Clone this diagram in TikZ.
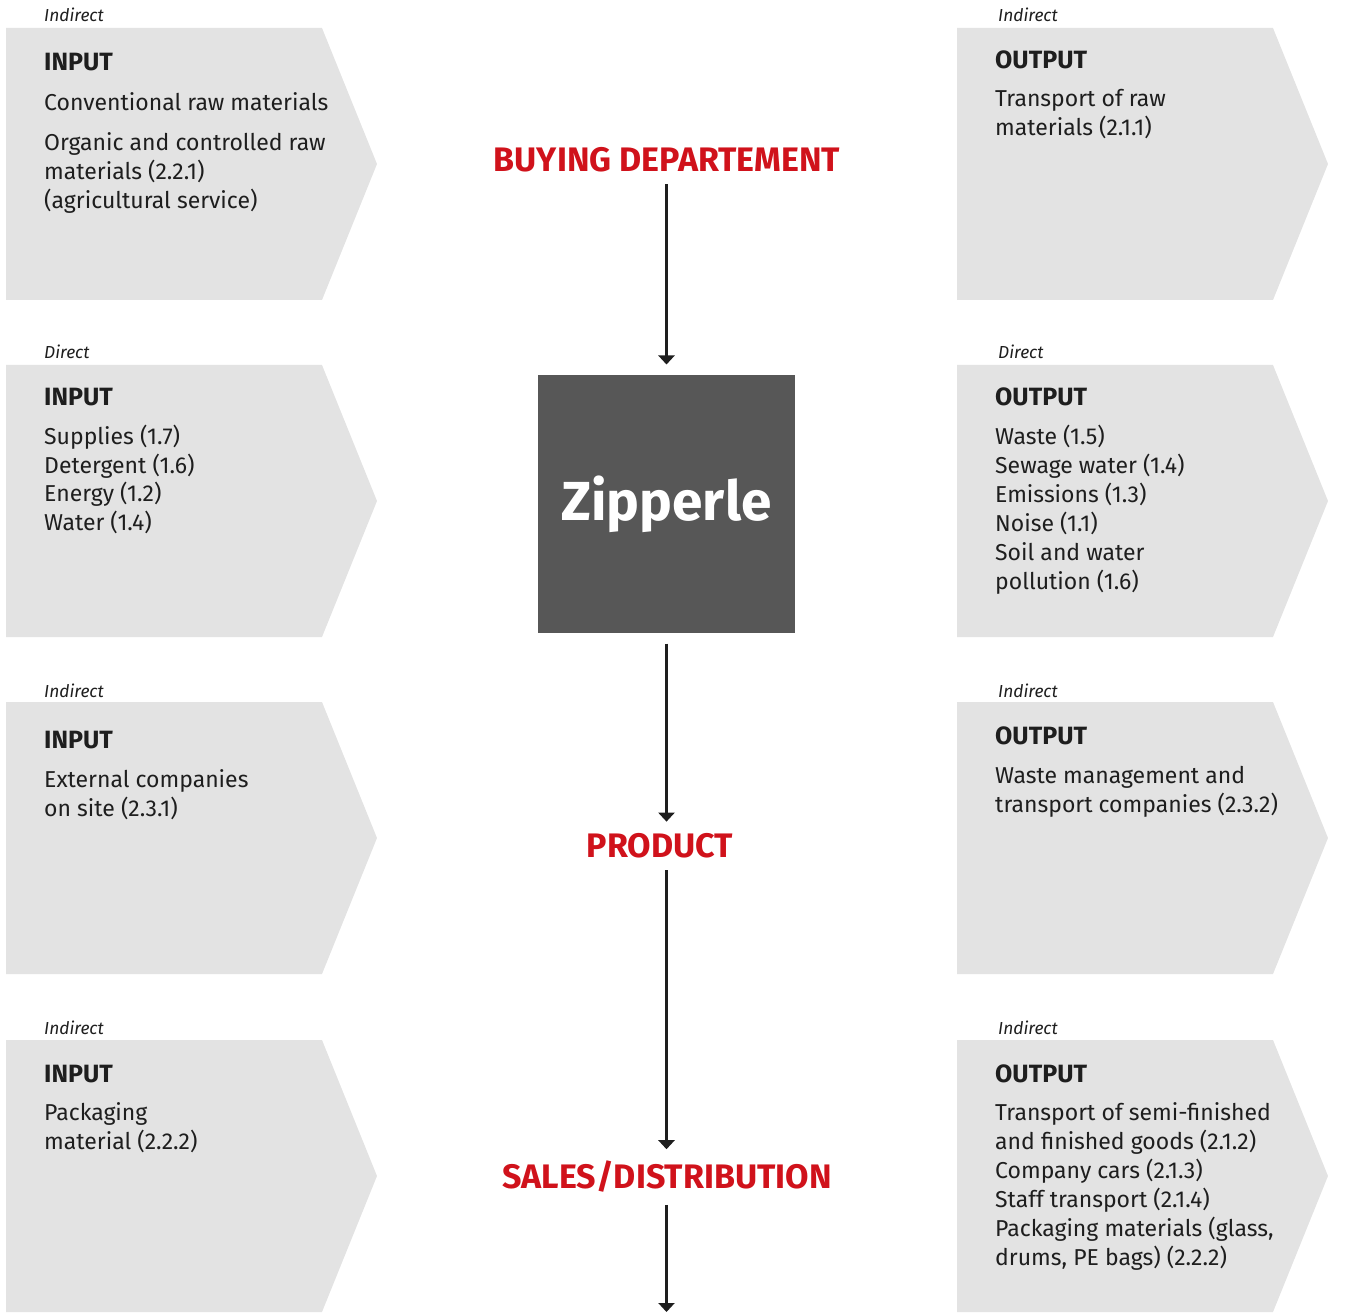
\documentclass[tikz,border=0pt]{standalone}
\usepackage{fontspec}
\setmainfont{Fira Sans}
\usetikzlibrary{arrows.meta,positioning}
\definecolor{boxgray}{HTML}{E3E3E3}
\definecolor{stagered}{HTML}{D0121B}
\definecolor{corebox}{HTML}{575757}
\definecolor{txt}{HTML}{1E1E1E}
\tikzset{
  kind/.style={anchor=base west,inner sep=0pt,text=txt,font=\fontsize{17.4}{17.4}\selectfont\itshape},
  head/.style={anchor=base west,inner sep=0pt,text=txt,font=\fontsize{25}{25}\selectfont\bfseries},
  body/.style={anchor=base west,inner sep=0pt,text=txt,align=left,font=\fontsize{23}{29}\selectfont},
  stage/.style={inner sep=0pt,outer sep=12pt,text=stagered,font=\fontsize{34}{34}\selectfont\bfseries},
  flow/.style={line width=3pt,draw=txt,-{Triangle[width=16pt,length=9pt]}}
}
% chevron box: left x, top y
\newcommand\chevron[2]{\fill[boxgray] (#1,#2) -- ++(316,0) -- ++(55,136) -- ++(-55,136) -- ++(-316,0) -- cycle;}
\begin{document}
\begin{tikzpicture}[x=1pt,y=-1pt]
\useasboundingbox (0,0) rectangle (1345,1313);
% boxes
\foreach \y in {28,365,702,1040}{
  \chevron{6}{\y}
  \chevron{957}{\y}
}
% left column (body nodes sit on the baseline of their last line)
\node[kind] (kindA) at (44,22) {Indirect};
\node[head] (inA) at (44,71) {INPUT};
\node[body] (inAtext) at (44,209) {Conventional raw materials\\[11pt]Organic and controlled raw\\materials (2.2.1)\\(agricultural service)};
\node[kind] (kindB) at (44,359) {Direct};
\node[head] (inB) at (44,406) {INPUT};
\node[body] (inBtext) at (44,531) {Supplies (1.7)\\Detergent (1.6)\\Energy (1.2)\\Water (1.4)};
\node[kind] (kindC) at (44,697) {Indirect};
\node[head] (inC) at (44,748) {INPUT};
\node[body] (inCtext) at (44,816) {External companies\\on site (2.3.1)};
\node[kind] (kindD) at (44,1034) {Indirect};
\node[head] (inD) at (44,1082) {INPUT};
\node[body] (inDtext) at (44,1149) {Packaging\\material (2.2.2)};
% right column
\node[kind] (kindE) at (998,22) {Indirect};
\node[head] (outA) at (995,69) {OUTPUT};
\node[body] (outAtext) at (995,136) {Transport of raw\\materials (2.1.1)};
\node[kind] (kindF) at (998,359) {Direct};
\node[head] (outB) at (995,406) {OUTPUT};
\node[body] (outBtext) at (995,589) {Waste (1.5)\\Sewage water (1.4)\\Emissions (1.3)\\Noise (1.1)\\Soil and water\\pollution (1.6)};
\node[kind] (kindG) at (998,697) {Indirect};
\node[head] (outC) at (995,744) {OUTPUT};
\node[body] (outCtext) at (995,812) {Waste management and\\transport companies (2.3.2)};
\node[kind] (kindH) at (998,1034) {Indirect};
\node[head] (outD) at (995,1082) {OUTPUT};
\node[body] (outDtext) at (995,1265) {Transport of semi-finished\\and finished goods (2.1.2)\\Company cars (2.1.3)\\Staff transport (2.1.4)\\Packaging materials (glass,\\drums, PE bags) (2.2.2)};
% middle
\node[stage] (buy) at (667,160) {BUYING DEPARTEMENT};
\node[fill=corebox,minimum size=257pt,inner sep=0pt,outer sep=11pt,text=white,font=\fontsize{55}{55}\selectfont\bfseries] (core) at (666.5,504) {Zipperle};
\node[stage] (prod) at (660,846) {PRODUCT};
\node[stage] (sales) at (667,1177) {SALES/DISTRIBUTION};
\coordinate (end) at (666.5,1312);
\draw[flow] (buy.south -| core.north) -- (core.north);
\draw[flow] (core.south) -- (core.south |- prod.north);
\draw[flow] (core.south |- prod.south) -- (core.south |- sales.north);
\draw[flow] (core.south |- sales.south) -- (end);
\end{tikzpicture}
\end{document}
